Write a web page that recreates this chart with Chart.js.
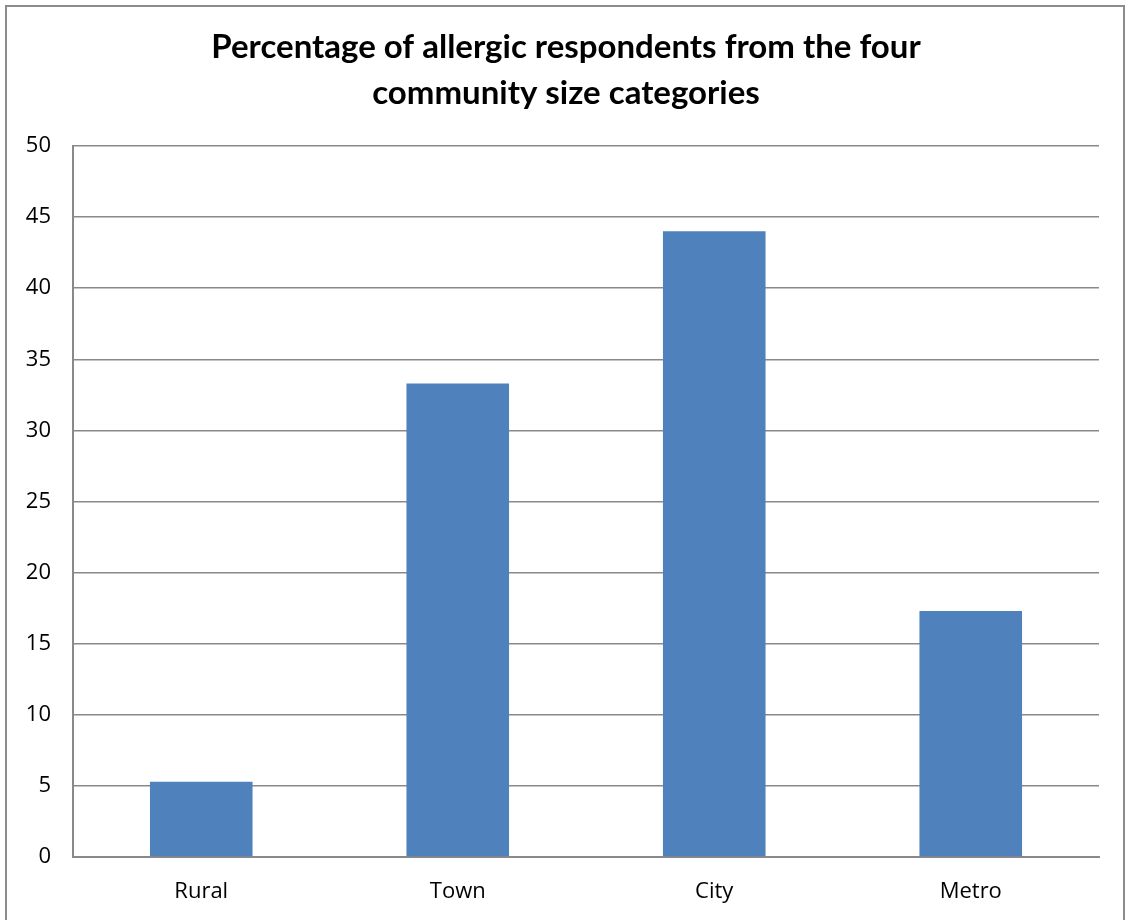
<!DOCTYPE html>
<html>
<head>
<meta charset="utf-8">
<title>Allergic respondents by community size</title>
<script src="https://cdn.jsdelivr.net/npm/chart.js@4.4.1/dist/chart.umd.min.js"></script>
<style>
  html, body { margin: 0; padding: 0; background: #ffffff; overflow: hidden; }
  #frame {
    position: absolute; left: 5px; top: 5px;
    width: 1116px; height: 1000px;
    border: 2px solid #8c8c8c;
  }
  #wrap { position: absolute; left: 0; top: 0; width: 1128px; height: 920px; }
</style>
</head>
<body>
<div id="frame"></div>
<div id="wrap"><canvas id="chart" width="1128" height="920"></canvas></div>
<script>
// Community size categories and share of allergic respondents (%)
const categories = ["Rural", "Town", "City", "Metro"];
const allergicPercent = [5.3, 33.3, 44.0, 17.3];
const yTicks = [0, 5, 10, 15, 20, 25, 30, 35, 40, 45, 50];
const chartTitle = ["Percentage of allergic respondents from the four", "community size categories"];

const gridGrey = "#898989";
const barBlue = "#4f81bd";
const tickFont = { family: "'Open Sans', 'Noto Sans', sans-serif", size: 22 };

// Two-line heading centred on the whole canvas, above the plot area
const centredTitle = {
  id: "centredTitle",
  afterDraw(chart) {
    const ctx = chart.ctx;
    ctx.save();
    ctx.fillStyle = "#000000";
    ctx.font = "bold 33px Lato, 'Liberation Sans', sans-serif";
    ctx.textAlign = "center";
    ctx.textBaseline = "alphabetic";
    const cx = chart.width / 2 + 2;
    chartTitle.forEach((line, i) => ctx.fillText(line, cx, 58 + i * 46));
    ctx.restore();
  }
};

new Chart(document.getElementById("chart"), {
  type: "bar",
  data: {
    labels: categories,
    datasets: [{
      data: allergicPercent,
      backgroundColor: barBlue,
      borderWidth: 0,
      categoryPercentage: 0.8,
      barPercentage: 0.5
    }]
  },
  options: {
    responsive: false,
    animation: false,
    layout: { padding: { left: 0, right: 29, top: 146, bottom: 0 } },
    plugins: {
      legend: { display: false },
      tooltip: { enabled: false },
      title: { display: false }
    },
    scales: {
      x: {
        grid: { display: false, drawTicks: false },
        border: { display: true, color: gridGrey, width: 2 },
        ticks: { color: "#000000", font: tickFont, padding: 22 },
        afterFit: (scale) => { scale.height = 63; }
      },
      y: {
        min: 0,
        max: 50,
        afterBuildTicks: (scale) => { scale.ticks = yTicks.map(v => ({ value: v })); },
        grid: { color: gridGrey, lineWidth: 1.6, drawTicks: false },
        border: { display: true, color: gridGrey, width: 2 },
        ticks: { color: "#000000", font: tickFont, padding: 22 },
        afterFit: (scale) => { scale.width = 73; }
      }
    }
  },
  plugins: [centredTitle]
});
</script>
</body>
</html>
